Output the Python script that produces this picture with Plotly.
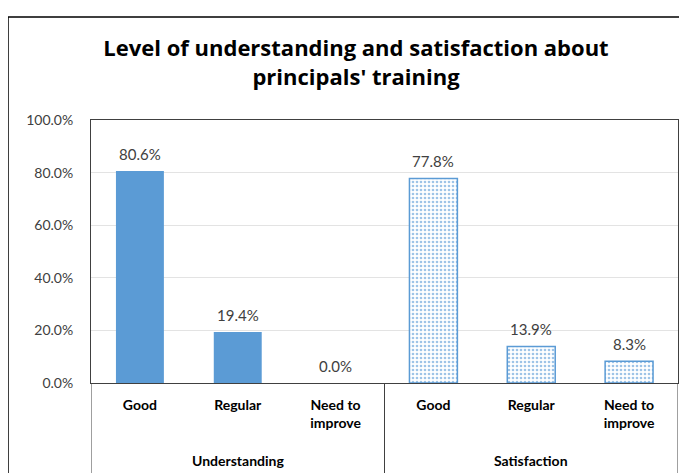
import plotly.graph_objects as go

groups = ["Understanding", "Satisfaction"]
levels = ["Good", "Regular", "Need to<br>improve", "Good", "Regular", "Need to<br>improve"]
keys = ["U_Good", "U_Regular", "U_Need", "S_Good", "S_Regular", "S_Need"]
understanding_vals = [0.806, 0.194, 0.0]
satisfaction_vals = [0.778, 0.139, 0.083]
y_ticks = [0, 0.2, 0.4, 0.6, 0.8, 1.0]
y_tick_text = ["0.0%", "20.0%", "40.0%", "60.0%", "80.0%", "100.0%"]

BLUE = "#5B9BD5"
FONT = "Lato"
OFF = 8  # page body offset of the figure

W, H = 687 - OFF, 473 - OFF
L, R, T, B = 91 - OFF, 687 - 678, 120 - OFF, 473 - 383
pw, ph = W - L - R, H - T - B

def px_x(x):
    return (x - OFF - L) / pw

def px_y(y):
    return (H - B - (y - OFF)) / ph

fig = go.Figure()
fig.add_trace(go.Bar(
    x=keys[:3], y=understanding_vals,
    marker=dict(color=BLUE, line=dict(width=0)),
    width=0.49, showlegend=False, hoverinfo="skip",
))
fig.add_trace(go.Bar(
    x=keys[3:], y=satisfaction_vals,
    marker=dict(color="white", line=dict(color=BLUE, width=1.5),
                pattern=dict(shape=".", fgcolor="#3D8AD0", bgcolor="white", size=4, solidity=0.35)),
    width=0.49, showlegend=False, hoverinfo="skip",
))

# data labels
for k, v in zip(keys, understanding_vals + satisfaction_vals):
    fig.add_annotation(x=k, y=v, xref="x", yref="y", text=f"{v*100:.1f}%",
                       showarrow=False, yanchor="middle", yshift=17,
                       font=dict(family=FONT, size=15, color="#404040"))

# group labels (centered on middle category of each group)
for g_key, g_name in [("U_Regular", groups[0]), ("S_Regular", groups[1])]:
    fig.add_annotation(x=g_key, y=px_y(460), xref="x", yref="paper",
                       text=f"<b>{g_name}</b>", showarrow=False, yanchor="middle",
                       font=dict(family=FONT, size=14, color="#000000"))

shapes = []
for xv in [-0.5, 2.5, 5.5]:
    shapes.append(dict(type="line", xref="x", yref="paper", x0=xv, x1=xv,
                       y0=0, y1=px_y(490), line=dict(color="#404040", width=1)))
shapes.append(dict(type="rect", xref="paper", yref="paper",
                   x0=px_x(8), x1=px_x(686), y0=px_y(500), y1=px_y(17),
                   line=dict(color="#000000", width=1.5)))
fig.update_layout(shapes=shapes)

fig.update_layout(
    width=W, height=H,
    margin=dict(l=L, r=R, t=T, b=B),
    paper_bgcolor="white", plot_bgcolor="white",
    title=dict(text="<b>Level of understanding and satisfaction about<br>principals' training</b>",
               x=px_x(356), xref="paper", xanchor="center",
               y=1 - (56 - OFF) / H, yanchor="middle",
               font=dict(family="Open Sans", size=22, color="#000000")),
    xaxis=dict(type="category", categoryorder="array", categoryarray=keys,
               tickvals=keys, ticktext=[f"<b>{t}</b>" for t in levels], range=[-0.5, 5.5],
               showline=True, linecolor="#404040", linewidth=1, mirror=True,
               ticks="", ticklabelstandoff=9,
               tickfont=dict(family=FONT, size=14, color="#000000")),
    yaxis=dict(range=[0, 1.0], tickvals=y_ticks, ticktext=y_tick_text,
               showgrid=True, gridcolor="#E3E3E3", gridwidth=1,
               showline=True, linecolor="#404040", linewidth=1, mirror=True,
               zeroline=False, ticks="", ticklabelstandoff=14,
               tickfont=dict(family=FONT, size=14, color="#404040")),
)

fig.write_html("out.html")
